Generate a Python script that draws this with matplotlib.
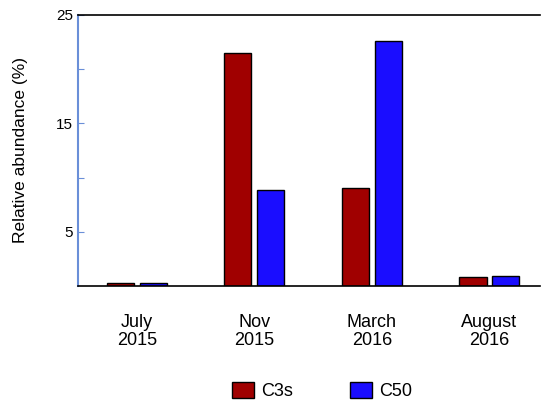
import numpy as np
import matplotlib.pyplot as plt
from matplotlib.patches import Patch

plt.rcParams['font.family'] = ['Liberation Sans', 'DejaVu Sans']

# sampling dates and relative abundance of each sample
dates = ['July\n2015', 'Nov\n2015', 'March\n2016', 'August\n2016']
c3s = [0.3, 21.5, 9.0, 0.8]
c50 = [0.3, 8.85, 22.6, 0.9]

red = '#a00000'
blue = '#1a0dff'

fig = plt.figure(figsize=(5.46, 4.04), dpi=100)
ax = fig.add_axes([0.143, 0.292, 0.846, 0.671])

x = np.arange(len(dates))
w = 0.23
off = 0.14
ax.bar(x - off, c3s, w, color=red, edgecolor='black', linewidth=1)
ax.bar(x + off, c50, w, color=blue, edgecolor='black', linewidth=1)

ax.set_xlim(-0.5, 3.43)
ax.set_ylim(0, 25)
ax.set_yticks([5, 10, 15, 20, 25])
ax.set_yticklabels(['5', '', '15', '', '25'])
ax.tick_params(axis='y', direction='in', length=4, color='#6a8fd8', labelsize=11)
ax.set_xticks(x)
ax.set_xticklabels(dates, fontsize=13, linespacing=1.1)
ax.tick_params(axis='x', length=0, pad=20)

ax.spines['right'].set_visible(False)
ax.spines['left'].set_color('#6a8fd8')
ax.spines['left'].set_linewidth(1.5)
ax.spines['top'].set_linewidth(1.2)
ax.spines['bottom'].set_linewidth(1.2)

ax.set_ylabel('Relative abundance (%)', fontsize=12.5, labelpad=20)

handles = [Patch(facecolor=red, edgecolor='black', label='C3s'),
           Patch(facecolor=blue, edgecolor='black', label='C50')]
fig.legend(handles=handles, loc='lower center', bbox_to_anchor=(0.59, -0.03),
           ncol=2, frameon=False, fontsize=13, handlelength=1.2,
           handleheight=1.0, columnspacing=3.2, handletextpad=0.4)

fig.savefig('out.png', dpi=100)
